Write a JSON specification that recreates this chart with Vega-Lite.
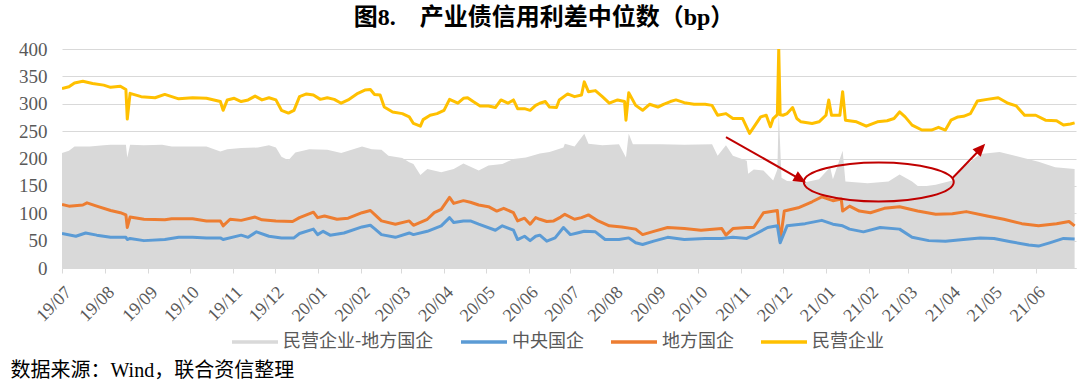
{
"$schema": "https://vega.github.io/schema/vega-lite/v6.json",
"width": 1014, "height": 219,
"autosize": {"type": "none"},
"padding": {"left": 62, "top": 49, "right": 4, "bottom": 118},
"background": "white",
"title": {"text": "图8.　产业债信用利差中位数（bp）", "font": "Liberation Serif, Noto Sans CJK SC", "fontSize": 24, "fontWeight": "bold", "color": "#000000", "anchor": "middle", "dx": -25, "offset": 10},
"config": {"view": {"stroke": null}},
"datasets": {
"gap": [
{"s":"民营企业-地方国企","d":"2019-07-01","v":210},{"s":"民营企业-地方国企","d":"2019-07-06","v":214},{"s":"民营企业-地方国企","d":"2019-07-10","v":222},{"s":"民营企业-地方国企","d":"2019-07-21","v":222},{"s":"民营企业-地方国企","d":"2019-07-31","v":224},{"s":"民营企业-地方国企","d":"2019-08-05","v":225},{"s":"民营企业-地方国企","d":"2019-08-16","v":225},{"s":"民营企业-地方国企","d":"2019-08-17","v":202},{"s":"民营企业-地方国企","d":"2019-08-19","v":225},{"s":"民营企业-地方国企","d":"2019-08-29","v":224},{"s":"民营企业-地方国企","d":"2019-09-11","v":225},{"s":"民营企业-地方国企","d":"2019-09-18","v":222},{"s":"民营企业-地方国企","d":"2019-10-01","v":222},{"s":"民营企业-地方国企","d":"2019-10-13","v":222},{"s":"民营企业-地方国企","d":"2019-10-23","v":213},{"s":"民营企业-地方国企","d":"2019-10-28","v":217},{"s":"民营企业-地方国企","d":"2019-11-07","v":219},{"s":"民营企业-地方国企","d":"2019-11-19","v":220},{"s":"民营企业-地方国企","d":"2019-11-27","v":224},{"s":"民营企业-地方国企","d":"2019-12-02","v":220},{"s":"民营企业-地方国企","d":"2019-12-06","v":203},{"s":"民营企业-地方国企","d":"2019-12-11","v":197},{"s":"民营企业-地方国企","d":"2019-12-16","v":211},{"s":"民营企业-地方国企","d":"2019-12-26","v":217},{"s":"民营企业-地方国企","d":"2020-01-08","v":216},{"s":"民营企业-地方国企","d":"2020-01-18","v":210},{"s":"民营企业-地方国企","d":"2020-02-02","v":222},{"s":"民营企业-地方国企","d":"2020-02-09","v":217},{"s":"民营企业-地方国企","d":"2020-02-16","v":216},{"s":"民营企业-地方国企","d":"2020-02-21","v":205},{"s":"民营企业-地方国企","d":"2020-03-02","v":201},{"s":"民营企业-地方国企","d":"2020-03-07","v":193},{"s":"民营企业-地方国企","d":"2020-03-10","v":190},{"s":"民营企业-地方国企","d":"2020-03-15","v":170},{"s":"民营企业-地方国企","d":"2020-03-20","v":181},{"s":"民营企业-地方国企","d":"2020-03-30","v":175},{"s":"民营企业-地方国企","d":"2020-04-08","v":181},{"s":"民营企业-地方国企","d":"2020-04-15","v":191},{"s":"民营企业-地方国企","d":"2020-04-26","v":178},{"s":"民营企业-地方国企","d":"2020-05-03","v":187},{"s":"民营企业-地方国企","d":"2020-05-13","v":190},{"s":"民营企业-地方国企","d":"2020-05-21","v":199},{"s":"民营企业-地方国企","d":"2020-05-30","v":202},{"s":"民营企业-地方国企","d":"2020-06-09","v":209},{"s":"民营企业-地方国企","d":"2020-06-16","v":212},{"s":"民营企业-地方国企","d":"2020-06-26","v":220},{"s":"民营企业-地方国企","d":"2020-06-27","v":227},{"s":"民营企业-地方国企","d":"2020-07-04","v":222},{"s":"民营企业-地方国企","d":"2020-07-11","v":245},{"s":"民营企业-地方国企","d":"2020-07-14","v":227},{"s":"民营企业-地方国企","d":"2020-07-24","v":224},{"s":"民营企业-地方国企","d":"2020-08-05","v":226},{"s":"民营企业-地方国企","d":"2020-08-10","v":202},{"s":"民营企业-地方国企","d":"2020-08-12","v":245},{"s":"民营企业-地方国企","d":"2020-08-15","v":226},{"s":"民营企业-地方国企","d":"2020-09-04","v":226},{"s":"民营企业-地方国企","d":"2020-09-21","v":225},{"s":"民营企业-地方国企","d":"2020-10-11","v":226},{"s":"民营企业-地方国企","d":"2020-10-15","v":205},{"s":"民营企业-地方国企","d":"2020-10-21","v":224},{"s":"民营企业-地方国企","d":"2020-10-26","v":205},{"s":"民营企业-地方国企","d":"2020-11-05","v":196},{"s":"民营企业-地方国企","d":"2020-11-06","v":172},{"s":"民营企业-地方国企","d":"2020-11-10","v":180},{"s":"民营企业-地方国企","d":"2020-11-17","v":178},{"s":"民营企业-地方国企","d":"2020-11-24","v":160},{"s":"民营企业-地方国企","d":"2020-11-27","v":180},{"s":"民营企业-地方国企","d":"2020-11-28","v":285},{"s":"民营企业-地方国企","d":"2020-11-30","v":165},{"s":"民营企业-地方国企","d":"2020-12-04","v":159},{"s":"民营企业-地方国企","d":"2020-12-18","v":157},{"s":"民营企业-地方国企","d":"2020-12-27","v":162},{"s":"民营企业-地方国企","d":"2021-01-04","v":184},{"s":"民营企业-地方国企","d":"2021-01-06","v":162},{"s":"民营企业-地方国企","d":"2021-01-13","v":214},{"s":"民营企业-地方国企","d":"2021-01-15","v":158},{"s":"民营企业-地方国企","d":"2021-01-31","v":155},{"s":"民营企业-地方国企","d":"2021-02-15","v":158},{"s":"民营企业-地方国企","d":"2021-02-23","v":171},{"s":"民营企业-地方国企","d":"2021-03-04","v":158},{"s":"民营企业-地方国企","d":"2021-03-09","v":148},{"s":"民营企业-地方国企","d":"2021-03-21","v":152},{"s":"民营企业-地方国企","d":"2021-04-02","v":160},{"s":"民营企业-地方国企","d":"2021-04-10","v":184},{"s":"民营企业-地方国企","d":"2021-04-22","v":208},{"s":"民营企业-地方国企","d":"2021-05-06","v":212},{"s":"民营企业-地方国企","d":"2021-05-22","v":202},{"s":"民营企业-地方国企","d":"2021-06-03","v":194},{"s":"民营企业-地方国企","d":"2021-06-15","v":184},{"s":"民营企业-地方国企","d":"2021-06-29","v":181}
],
"lines": [
{"s":"民营企业","d":"2019-07-01","v":328},{"s":"民营企业","d":"2019-07-06","v":331},{"s":"民营企业","d":"2019-07-10","v":338},{"s":"民营企业","d":"2019-07-16","v":341},{"s":"民营企业","d":"2019-07-23","v":337},{"s":"民营企业","d":"2019-07-31","v":334},{"s":"民营企业","d":"2019-08-05","v":330},{"s":"民营企业","d":"2019-08-12","v":332},{"s":"民营企业","d":"2019-08-16","v":326},{"s":"民营企业","d":"2019-08-17","v":272},{"s":"民营企业","d":"2019-08-19","v":319},{"s":"民营企业","d":"2019-08-27","v":313},{"s":"民营企业","d":"2019-09-06","v":311},{"s":"民营企业","d":"2019-09-13","v":317},{"s":"民营企业","d":"2019-09-18","v":313},{"s":"民营企业","d":"2019-09-23","v":309},{"s":"民营企业","d":"2019-10-03","v":311},{"s":"民营企业","d":"2019-10-13","v":310},{"s":"民营企业","d":"2019-10-23","v":304},{"s":"民营企业","d":"2019-10-25","v":288},{"s":"民营企业","d":"2019-10-28","v":307},{"s":"民营企业","d":"2019-11-02","v":310},{"s":"民营企业","d":"2019-11-07","v":304},{"s":"民营企业","d":"2019-11-12","v":307},{"s":"民营企业","d":"2019-11-17","v":314},{"s":"民营企业","d":"2019-11-22","v":307},{"s":"民营企业","d":"2019-11-27","v":311},{"s":"民营企业","d":"2019-12-02","v":307},{"s":"民营企业","d":"2019-12-06","v":288},{"s":"民营企业","d":"2019-12-11","v":283},{"s":"民营企业","d":"2019-12-15","v":288},{"s":"民营企业","d":"2019-12-19","v":313},{"s":"民营企业","d":"2019-12-24","v":318},{"s":"民营企业","d":"2019-12-29","v":316},{"s":"民营企业","d":"2020-01-03","v":308},{"s":"民营企业","d":"2020-01-08","v":311},{"s":"民营企业","d":"2020-01-13","v":308},{"s":"民营企业","d":"2020-01-18","v":301},{"s":"民营企业","d":"2020-01-23","v":307},{"s":"民营企业","d":"2020-01-30","v":319},{"s":"民营企业","d":"2020-02-04","v":325},{"s":"民营企业","d":"2020-02-08","v":326},{"s":"民营企业","d":"2020-02-11","v":317},{"s":"民营企业","d":"2020-02-15","v":316},{"s":"民营企业","d":"2020-02-18","v":294},{"s":"民营企业","d":"2020-02-24","v":285},{"s":"民营企业","d":"2020-03-02","v":282},{"s":"民营企业","d":"2020-03-07","v":276},{"s":"民营企业","d":"2020-03-10","v":264},{"s":"民营企业","d":"2020-03-15","v":259},{"s":"民营企业","d":"2020-03-17","v":271},{"s":"民营企业","d":"2020-03-22","v":279},{"s":"民营企业","d":"2020-03-27","v":282},{"s":"民营企业","d":"2020-04-01","v":288},{"s":"民营企业","d":"2020-04-05","v":308},{"s":"民营企业","d":"2020-04-11","v":301},{"s":"民营企业","d":"2020-04-15","v":310},{"s":"民营企业","d":"2020-04-18","v":311},{"s":"民营企业","d":"2020-04-22","v":304},{"s":"民营企业","d":"2020-04-27","v":296},{"s":"民营企业","d":"2020-05-03","v":296},{"s":"民营企业","d":"2020-05-08","v":293},{"s":"民营企业","d":"2020-05-12","v":307},{"s":"民营企业","d":"2020-05-17","v":301},{"s":"民营企业","d":"2020-05-21","v":307},{"s":"民营企业","d":"2020-05-24","v":291},{"s":"民营企业","d":"2020-05-29","v":291},{"s":"民营企业","d":"2020-06-02","v":288},{"s":"民营企业","d":"2020-06-06","v":297},{"s":"民营企业","d":"2020-06-09","v":301},{"s":"民营企业","d":"2020-06-13","v":304},{"s":"民营企业","d":"2020-06-16","v":294},{"s":"民营企业","d":"2020-06-21","v":293},{"s":"民营企业","d":"2020-06-23","v":307},{"s":"民营企业","d":"2020-06-29","v":318},{"s":"民营企业","d":"2020-07-04","v":313},{"s":"民营企业","d":"2020-07-09","v":316},{"s":"民营企业","d":"2020-07-11","v":340},{"s":"民营企业","d":"2020-07-14","v":322},{"s":"民营企业","d":"2020-07-19","v":324},{"s":"民营企业","d":"2020-07-24","v":313},{"s":"民营企业","d":"2020-07-29","v":301},{"s":"民营企业","d":"2020-08-04","v":307},{"s":"民营企业","d":"2020-08-09","v":304},{"s":"民营企业","d":"2020-08-10","v":270},{"s":"民营企业","d":"2020-08-12","v":320},{"s":"民营企业","d":"2020-08-17","v":297},{"s":"民营企业","d":"2020-08-22","v":288},{"s":"民营企业","d":"2020-08-27","v":299},{"s":"民营企业","d":"2020-09-02","v":294},{"s":"民营企业","d":"2020-09-06","v":299},{"s":"民营企业","d":"2020-09-11","v":304},{"s":"民营企业","d":"2020-09-15","v":307},{"s":"民营企业","d":"2020-09-21","v":302},{"s":"民营企业","d":"2020-09-28","v":299},{"s":"民营企业","d":"2020-10-06","v":299},{"s":"民营企业","d":"2020-10-11","v":297},{"s":"民营企业","d":"2020-10-15","v":279},{"s":"民营企业","d":"2020-10-21","v":282},{"s":"民营企业","d":"2020-10-26","v":273},{"s":"民营企业","d":"2020-11-02","v":273},{"s":"民营企业","d":"2020-11-07","v":246},{"s":"民营企业","d":"2020-11-11","v":261},{"s":"民营企业","d":"2020-11-15","v":276},{"s":"民营企业","d":"2020-11-19","v":279},{"s":"民营企业","d":"2020-11-22","v":258},{"s":"民营企业","d":"2020-11-24","v":273},{"s":"民营企业","d":"2020-11-27","v":280},{"s":"民营企业","d":"2020-11-28","v":400},{"s":"民营企业","d":"2020-11-29","v":280},{"s":"民营企业","d":"2020-12-01","v":279},{"s":"民营企业","d":"2020-12-04","v":282},{"s":"民营企业","d":"2020-12-08","v":293},{"s":"民营企业","d":"2020-12-11","v":273},{"s":"民营企业","d":"2020-12-14","v":267},{"s":"民营企业","d":"2020-12-22","v":264},{"s":"民营企业","d":"2020-12-27","v":267},{"s":"民营企业","d":"2021-01-01","v":279},{"s":"民营企业","d":"2021-01-03","v":307},{"s":"民营企业","d":"2021-01-05","v":279},{"s":"民营企业","d":"2021-01-11","v":279},{"s":"民营企业","d":"2021-01-13","v":322},{"s":"民营企业","d":"2021-01-15","v":270},{"s":"民营企业","d":"2021-01-23","v":267},{"s":"民营企业","d":"2021-01-30","v":259},{"s":"民营企业","d":"2021-02-07","v":267},{"s":"民营企业","d":"2021-02-14","v":269},{"s":"民营企业","d":"2021-02-19","v":273},{"s":"民营企业","d":"2021-02-23","v":285},{"s":"民营企业","d":"2021-02-27","v":276},{"s":"民营企业","d":"2021-03-04","v":261},{"s":"民营企业","d":"2021-03-11","v":252},{"s":"民营企业","d":"2021-03-18","v":252},{"s":"民营企业","d":"2021-03-23","v":257},{"s":"民营企业","d":"2021-03-28","v":252},{"s":"民营企业","d":"2021-04-01","v":270},{"s":"民营企业","d":"2021-04-06","v":276},{"s":"民营企业","d":"2021-04-10","v":277},{"s":"民营企业","d":"2021-04-15","v":282},{"s":"民营企业","d":"2021-04-20","v":305},{"s":"民营企业","d":"2021-04-27","v":308},{"s":"民营企业","d":"2021-05-05","v":311},{"s":"民营企业","d":"2021-05-12","v":301},{"s":"民营企业","d":"2021-05-18","v":296},{"s":"民营企业","d":"2021-05-24","v":279},{"s":"民营企业","d":"2021-06-01","v":279},{"s":"民营企业","d":"2021-06-08","v":270},{"s":"民营企业","d":"2021-06-16","v":269},{"s":"民营企业","d":"2021-06-21","v":261},{"s":"民营企业","d":"2021-06-26","v":263},{"s":"民营企业","d":"2021-06-29","v":265},
{"s":"地方国企","d":"2019-07-01","v":116},{"s":"地方国企","d":"2019-07-06","v":113},{"s":"地方国企","d":"2019-07-16","v":115},{"s":"地方国企","d":"2019-07-19","v":119},{"s":"地方国企","d":"2019-07-26","v":113},{"s":"地方国企","d":"2019-08-05","v":105},{"s":"地方国企","d":"2019-08-12","v":101},{"s":"地方国企","d":"2019-08-16","v":97},{"s":"地方国企","d":"2019-08-17","v":74},{"s":"地方国企","d":"2019-08-19","v":93},{"s":"地方国企","d":"2019-08-29","v":89},{"s":"地方国企","d":"2019-09-13","v":88},{"s":"地方国企","d":"2019-09-18","v":90},{"s":"地方国企","d":"2019-10-03","v":90},{"s":"地方国企","d":"2019-10-13","v":86},{"s":"地方国企","d":"2019-10-23","v":86},{"s":"地方国企","d":"2019-10-25","v":77},{"s":"地方国企","d":"2019-10-30","v":89},{"s":"地方国企","d":"2019-11-07","v":87},{"s":"地方国企","d":"2019-11-17","v":93},{"s":"地方国企","d":"2019-11-22","v":88},{"s":"地方国企","d":"2019-12-02","v":86},{"s":"地方国企","d":"2019-12-14","v":85},{"s":"地方国企","d":"2019-12-19","v":92},{"s":"地方国企","d":"2019-12-29","v":102},{"s":"地方国企","d":"2020-01-01","v":92},{"s":"地方国企","d":"2020-01-06","v":95},{"s":"地方国企","d":"2020-01-15","v":89},{"s":"地方国企","d":"2020-01-23","v":91},{"s":"地方国企","d":"2020-02-02","v":101},{"s":"地方国企","d":"2020-02-08","v":105},{"s":"地方国企","d":"2020-02-11","v":98},{"s":"地方国企","d":"2020-02-16","v":86},{"s":"地方国企","d":"2020-02-26","v":80},{"s":"地方国企","d":"2020-03-07","v":86},{"s":"地方国企","d":"2020-03-10","v":78},{"s":"地方国企","d":"2020-03-20","v":89},{"s":"地方国企","d":"2020-03-25","v":101},{"s":"地方国企","d":"2020-03-30","v":107},{"s":"地方国企","d":"2020-04-05","v":129},{"s":"地方国企","d":"2020-04-08","v":118},{"s":"地方国企","d":"2020-04-15","v":123},{"s":"地方国企","d":"2020-04-20","v":120},{"s":"地方国企","d":"2020-04-26","v":115},{"s":"地方国企","d":"2020-05-03","v":112},{"s":"地方国企","d":"2020-05-09","v":104},{"s":"地方国企","d":"2020-05-14","v":109},{"s":"地方国企","d":"2020-05-21","v":101},{"s":"地方国企","d":"2020-05-24","v":86},{"s":"地方国企","d":"2020-05-29","v":91},{"s":"地方国企","d":"2020-06-02","v":80},{"s":"地方国企","d":"2020-06-06","v":92},{"s":"地方国企","d":"2020-06-09","v":89},{"s":"地方国企","d":"2020-06-14","v":85},{"s":"地方国企","d":"2020-06-19","v":86},{"s":"地方国企","d":"2020-06-24","v":93},{"s":"地方国企","d":"2020-06-27","v":98},{"s":"地方国企","d":"2020-07-04","v":89},{"s":"地方国企","d":"2020-07-09","v":92},{"s":"地方国企","d":"2020-07-14","v":97},{"s":"地方国企","d":"2020-07-21","v":86},{"s":"地方国企","d":"2020-07-29","v":77},{"s":"地方国企","d":"2020-08-07","v":75},{"s":"地方国企","d":"2020-08-17","v":71},{"s":"地方国企","d":"2020-08-22","v":61},{"s":"地方国企","d":"2020-08-30","v":67},{"s":"地方国企","d":"2020-09-09","v":74},{"s":"地方国企","d":"2020-09-21","v":72},{"s":"地方国企","d":"2020-10-03","v":69},{"s":"地方国企","d":"2020-10-18","v":72},{"s":"地方国企","d":"2020-10-21","v":60},{"s":"地方国企","d":"2020-10-26","v":72},{"s":"地方国企","d":"2020-11-05","v":74},{"s":"地方国企","d":"2020-11-10","v":74},{"s":"地方国企","d":"2020-11-17","v":101},{"s":"地方国企","d":"2020-11-27","v":105},{"s":"地方国企","d":"2020-11-29","v":49},{"s":"地方国企","d":"2020-12-02","v":104},{"s":"地方国企","d":"2020-12-12","v":110},{"s":"地方国企","d":"2020-12-22","v":121},{"s":"地方国企","d":"2020-12-29","v":130},{"s":"地方国企","d":"2021-01-06","v":123},{"s":"地方国企","d":"2021-01-12","v":126},{"s":"地方国企","d":"2021-01-13","v":104},{"s":"地方国企","d":"2021-01-18","v":113},{"s":"地方国企","d":"2021-01-25","v":104},{"s":"地方国企","d":"2021-02-02","v":101},{"s":"地方国企","d":"2021-02-12","v":109},{"s":"地方国企","d":"2021-02-23","v":112},{"s":"地方国企","d":"2021-03-08","v":104},{"s":"地方国企","d":"2021-03-21","v":98},{"s":"地方国企","d":"2021-04-02","v":99},{"s":"地方国企","d":"2021-04-12","v":103},{"s":"地方国企","d":"2021-04-27","v":95},{"s":"地方国企","d":"2021-05-09","v":89},{"s":"地方国企","d":"2021-05-22","v":81},{"s":"地方国企","d":"2021-06-03","v":77},{"s":"地方国企","d":"2021-06-16","v":81},{"s":"地方国企","d":"2021-06-25","v":85},{"s":"地方国企","d":"2021-06-29","v":77},
{"s":"中央国企","d":"2019-07-01","v":63},{"s":"中央国企","d":"2019-07-11","v":58},{"s":"中央国企","d":"2019-07-18","v":64},{"s":"中央国企","d":"2019-07-26","v":60},{"s":"中央国企","d":"2019-08-05","v":56},{"s":"中央国企","d":"2019-08-16","v":56},{"s":"中央国企","d":"2019-08-17","v":52},{"s":"中央国企","d":"2019-08-19","v":54},{"s":"中央国企","d":"2019-08-29","v":50},{"s":"中央国企","d":"2019-09-13","v":52},{"s":"中央国企","d":"2019-09-23","v":56},{"s":"中央国企","d":"2019-10-03","v":56},{"s":"中央国企","d":"2019-10-13","v":55},{"s":"中央国企","d":"2019-10-23","v":55},{"s":"中央国企","d":"2019-10-25","v":52},{"s":"中央国企","d":"2019-11-07","v":60},{"s":"中央国企","d":"2019-11-12","v":56},{"s":"中央国企","d":"2019-11-18","v":66},{"s":"中央国企","d":"2019-11-27","v":58},{"s":"中央国企","d":"2019-12-06","v":55},{"s":"中央国企","d":"2019-12-15","v":55},{"s":"中央国企","d":"2019-12-19","v":63},{"s":"中央国企","d":"2019-12-29","v":71},{"s":"中央国企","d":"2020-01-01","v":61},{"s":"中央国企","d":"2020-01-05","v":67},{"s":"中央国企","d":"2020-01-10","v":60},{"s":"中央国企","d":"2020-01-20","v":64},{"s":"中央国企","d":"2020-02-02","v":75},{"s":"中央国企","d":"2020-02-08","v":78},{"s":"中央国企","d":"2020-02-11","v":72},{"s":"中央国企","d":"2020-02-16","v":61},{"s":"中央国企","d":"2020-02-26","v":56},{"s":"中央国企","d":"2020-03-07","v":64},{"s":"中央国企","d":"2020-03-10","v":61},{"s":"中央国企","d":"2020-03-20","v":67},{"s":"中央国企","d":"2020-03-30","v":77},{"s":"中央国企","d":"2020-04-05","v":92},{"s":"中央国企","d":"2020-04-08","v":83},{"s":"中央国企","d":"2020-04-15","v":86},{"s":"中央国企","d":"2020-04-20","v":86},{"s":"中央国企","d":"2020-04-26","v":80},{"s":"中央国企","d":"2020-05-08","v":69},{"s":"中央国企","d":"2020-05-13","v":77},{"s":"中央国企","d":"2020-05-21","v":69},{"s":"中央国企","d":"2020-05-24","v":52},{"s":"中央国企","d":"2020-05-29","v":58},{"s":"中央国企","d":"2020-06-02","v":50},{"s":"中央国企","d":"2020-06-06","v":58},{"s":"中央国企","d":"2020-06-09","v":60},{"s":"中央国企","d":"2020-06-14","v":49},{"s":"中央国企","d":"2020-06-20","v":55},{"s":"中央国企","d":"2020-06-26","v":74},{"s":"中央国企","d":"2020-07-01","v":61},{"s":"中央国企","d":"2020-07-06","v":64},{"s":"中央国企","d":"2020-07-11","v":67},{"s":"中央国企","d":"2020-07-19","v":66},{"s":"中央国企","d":"2020-07-26","v":52},{"s":"中央国企","d":"2020-08-05","v":52},{"s":"中央国企","d":"2020-08-12","v":55},{"s":"中央国企","d":"2020-08-17","v":46},{"s":"中央国企","d":"2020-08-22","v":43},{"s":"中央国企","d":"2020-08-30","v":49},{"s":"中央国企","d":"2020-09-09","v":56},{"s":"中央国企","d":"2020-09-21","v":52},{"s":"中央国企","d":"2020-10-06","v":54},{"s":"中央国企","d":"2020-10-18","v":54},{"s":"中央国企","d":"2020-10-26","v":56},{"s":"中央国企","d":"2020-11-05","v":54},{"s":"中央国企","d":"2020-11-12","v":63},{"s":"中央国企","d":"2020-11-20","v":74},{"s":"中央国企","d":"2020-11-27","v":77},{"s":"中央国企","d":"2020-11-29","v":46},{"s":"中央国企","d":"2020-12-04","v":77},{"s":"中央国企","d":"2020-12-17","v":81},{"s":"中央国企","d":"2020-12-29","v":87},{"s":"中央国企","d":"2021-01-06","v":80},{"s":"中央国企","d":"2021-01-13","v":77},{"s":"中央国企","d":"2021-01-18","v":71},{"s":"中央国企","d":"2021-01-28","v":66},{"s":"中央国企","d":"2021-02-09","v":74},{"s":"中央国企","d":"2021-02-23","v":71},{"s":"中央国企","d":"2021-03-04","v":56},{"s":"中央国企","d":"2021-03-16","v":50},{"s":"中央国企","d":"2021-03-28","v":49},{"s":"中央国企","d":"2021-04-10","v":52},{"s":"中央国企","d":"2021-04-22","v":55},{"s":"中央国企","d":"2021-05-02","v":54},{"s":"中央国企","d":"2021-05-14","v":48},{"s":"中央国企","d":"2021-05-27","v":42},{"s":"中央国企","d":"2021-06-03","v":40},{"s":"中央国企","d":"2021-06-11","v":46},{"s":"中央国企","d":"2021-06-21","v":54},{"s":"中央国企","d":"2021-06-29","v":53}
],
"arrows": [
{"d":"2020-10-21","v":239,"d2":"2020-12-13","v2":163},
{"d":"2021-04-02","v":164,"d2":"2021-04-22","v2":217}
],
"heads": [
{"d":"2020-12-13","v":163,"a":120},
{"d":"2021-04-22","v":217,"a":43}
],
"ellipse": [
{"d":"2021-02-08","v":157}
]
},
"encoding": {
"x": {"field": "d", "type": "temporal",
 "scale": {"type": "utc", "domain": [{"year": 2019, "month": 7, "date": 1, "utc": true}, {"year": 2021, "month": 6, "date": 30, "utc": true}]},
 "axis": {"format": "%y/%m", "tickCount": {"interval": "month", "step": 1}, "labelAngle": -45, "labelFont": "Liberation Serif", "labelFontSize": 18, "labelColor": "#595959", "labelOverlap": false, "labelFlush": false, "labelBound": false, "labelPadding": 10, "tickColor": "#d9d9d9", "tickSize": 5, "domainColor": "#d9d9d9", "grid": false,
  "title": "数据来源：Wind，联合资信整理", "titleFont": "Liberation Serif, Noto Sans CJK SC", "titleFontSize": 20, "titleFontWeight": "normal", "titleColor": "#000000", "titleAnchor": "start", "titleAlign": "left", "titleX": -52, "titleY": 108, "titleBaseline": "alphabetic"}},
"y": {"field": "v", "type": "quantitative",
 "scale": {"domain": [0, 400], "nice": false, "zero": true},
 "axis": {"values": [0, 50, 100, 150, 200, 250, 300, 350, 400], "labelFont": "Liberation Serif", "labelFontSize": 19, "labelColor": "#595959", "ticks": false, "domain": false, "grid": true, "gridColor": "#d9d9d9", "gridWidth": 1, "labelPadding": 15, "title": null}}
},
"layer": [
{"data": {"name": "gap"}, "mark": {"type": "area", "opacity": 1},
 "encoding": {"color": {"field": "s", "type": "nominal",
  "scale": {"domain": ["民营企业-地方国企", "中央国企", "地方国企", "民营企业"], "range": ["#d9d9d9", "#5b9bd5", "#ed7d31", "#ffc000"]},
  "legend": {"title": null, "orient": "none", "legendX": 168, "legendY": 268, "direction": "horizontal", "symbolType": "stroke", "symbolSize": 2116, "symbolStrokeWidth": 3.5, "labelFont": "Noto Sans CJK SC", "labelFontSize": 18, "labelColor": "#595959", "labelOffset": 3, "columnPadding": 20,
   "encode": {"symbols": {"update": {"strokeWidth": {"signal": "datum.value === '民营企业-地方国企' ? 9 : 3.5"}}}}}}}},
{"data": {"name": "lines"}, "mark": {"type": "line", "strokeWidth": 3, "strokeJoin": "round", "clip": true},
 "encoding": {"color": {"field": "s", "type": "nominal"}}},
{"data": {"name": "arrows"}, "mark": {"type": "rule", "color": "#c00000", "strokeWidth": 2},
 "encoding": {"x2": {"field": "d2"}, "y2": {"field": "v2"}}},
{"data": {"name": "heads"}, "mark": {"type": "point", "shape": "M 0 -1 L 0.75 0.7 L -0.75 0.7 Z", "filled": true, "color": "#c00000", "size": 220, "opacity": 1},
 "encoding": {"angle": {"field": "a", "type": "quantitative", "scale": null}}},
{"data": {"name": "ellipse"}, "mark": {"type": "point", "shape": "M -1 0 A 1 0.26 0 1 1 1 0 A 1 0.26 0 1 1 -1 0 Z", "filled": false, "stroke": "#c00000", "strokeWidth": 2, "size": 22500, "opacity": 1}}
]
}
